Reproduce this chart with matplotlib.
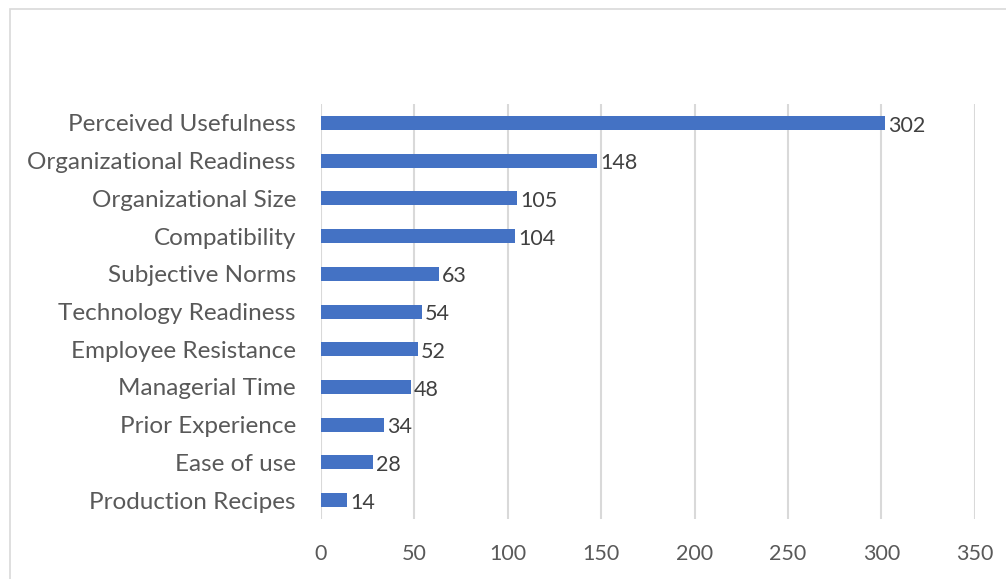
import matplotlib.pyplot as plt
from matplotlib.patches import Rectangle

# data (top to bottom in the chart)
factors = ['Perceived Usefulness', 'Organizational Readiness', 'Organizational Size',
           'Compatibility', 'Subjective Norms', 'Technology Readiness',
           'Employee Resistance', 'Managerial Time', 'Prior Experience',
           'Ease of use', 'Production Recipes']
counts = [302, 148, 105, 104, 63, 54, 52, 48, 34, 28, 14]
xticks = [0, 50, 100, 150, 200, 250, 300, 350]

plt.rcParams['font.family'] = ['Lato', 'DejaVu Sans']

fig = plt.figure(figsize=(10.06, 5.79), dpi=100)
ax = fig.add_axes([0.319, 0.1036, 0.650, 0.7167])

# outer chart frame
fig.patches.append(Rectangle((10/1006, -0.05), 1.1, 1 - 9/579 + 0.05,
                             transform=fig.transFigure, fill=False,
                             edgecolor='#D9D9D9', lw=1.2))

ypos = list(range(len(factors)))[::-1]
ax.barh(ypos, counts, height=0.37, color='#4472C4', zorder=3)

for y, v in zip(ypos, counts):
    ax.text(v + 1.5, y - 0.07, str(v), va='center', ha='left',
            fontsize=15.5, color='#404040')

ax.set_yticks(ypos)
ax.set_yticklabels(factors, fontsize=17.5, color='#595959')
ax.set_xticks(xticks)
ax.set_xticklabels([str(x) for x in xticks], fontsize=15.5, color='#595959')
ax.set_xlim(0, 350)
ax.set_ylim(-0.5, 10.5)
ax.tick_params(length=0, axis='y', pad=18)
ax.tick_params(length=0, axis='x', pad=18)
ax.grid(axis='x', color='#D9D9D9', lw=1.5, zorder=0)
for s in ax.spines.values():
    s.set_visible(False)

fig.savefig('out.png', dpi=100)
